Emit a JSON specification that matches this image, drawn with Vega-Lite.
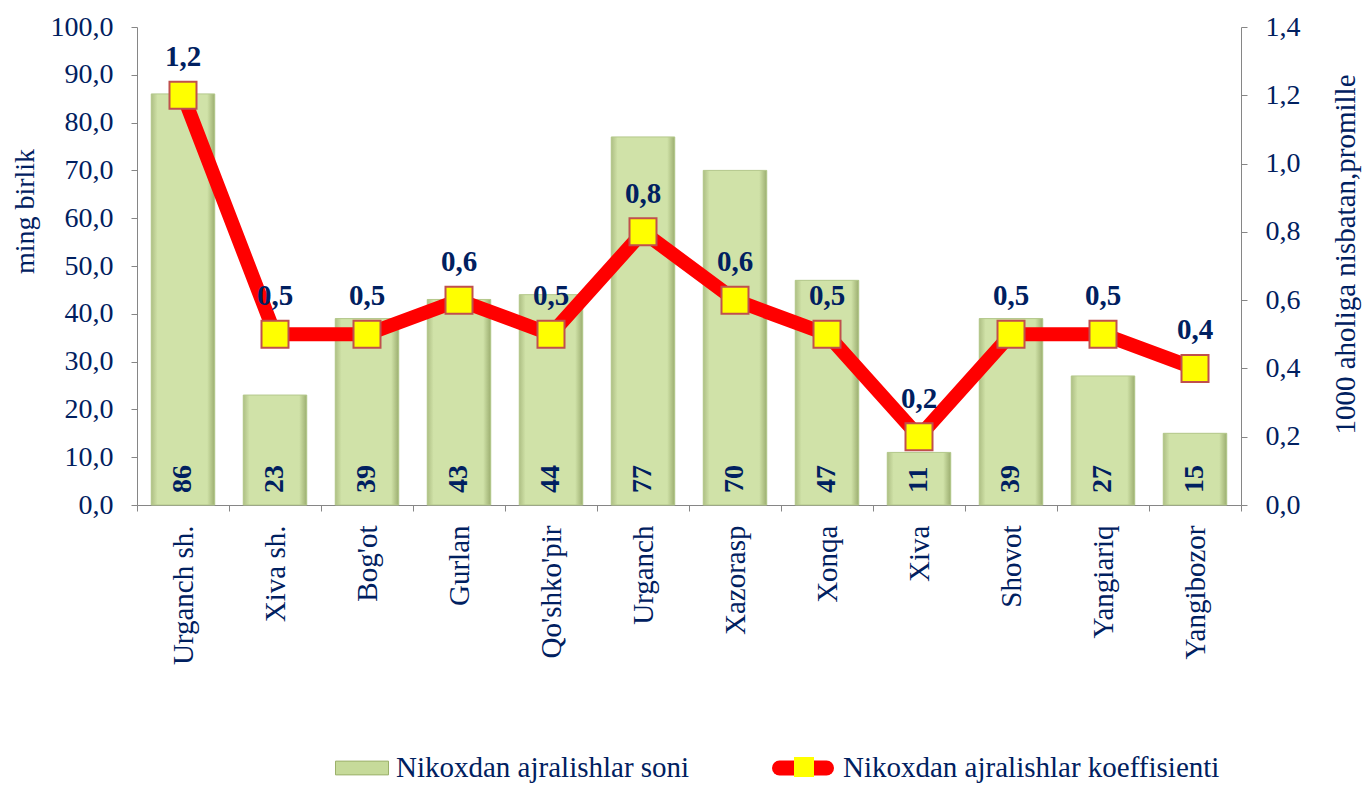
{
  "$schema": "https://vega.github.io/schema/vega-lite/v6.json",
  "width": 1104,
  "height": 478,
  "autosize": {"type": "none"},
  "padding": {"left": 137, "top": 27, "right": 121, "bottom": 282},
  "background": "white",
  "config": {
    "locale": {"number": {"decimal": ",", "thousands": " ", "grouping": [3], "currency": ["", ""]}},
    "view": {"stroke": null},
    "font": "Liberation Serif",
    "style": {
      "guide-label": {"font": "Liberation Serif"},
      "guide-title": {"font": "Liberation Serif"}
    },
    "axis": {
      "labelFont": "Liberation Serif",
      "titleFont": "Liberation Serif",
      "labelColor": "#002060",
      "titleColor": "#002060",
      "domainColor": "#868686",
      "tickColor": "#868686",
      "grid": false,
      "titleFontWeight": "normal"
    },
    "legend": {
      "labelFont": "Liberation Serif",
      "labelColor": "#002060",
      "labelFontSize": 29,
      "labelLimit": 800,
      "padding": 0,
      "title": null
    }
  },
  "data": {
    "values": [
      {"district": "Urganch sh.", "count": 86, "coef": 1.2},
      {"district": "Xiva sh.", "count": 23, "coef": 0.5},
      {"district": "Bog'ot", "count": 39, "coef": 0.5},
      {"district": "Gurlan", "count": 43, "coef": 0.6},
      {"district": "Qo'shko'pir", "count": 44, "coef": 0.5},
      {"district": "Urganch", "count": 77, "coef": 0.8},
      {"district": "Xazorasp", "count": 70, "coef": 0.6},
      {"district": "Xonqa", "count": 47, "coef": 0.5},
      {"district": "Xiva", "count": 11, "coef": 0.2},
      {"district": "Shovot", "count": 39, "coef": 0.5},
      {"district": "Yangiariq", "count": 27, "coef": 0.5},
      {"district": "Yangibozor", "count": 15, "coef": 0.4}
    ]
  },
  "encoding": {
    "x": {
      "field": "district",
      "type": "nominal",
      "sort": null,
      "scale": {"paddingInner": 0, "paddingOuter": 0},
      "axis": {
        "title": null,
        "labelAngle": 270,
        "labelAlign": "right",
        "labelBaseline": "middle",
        "labelFontSize": 29,
        "labelPadding": 14,
        "tickSize": 6,
        "tickBand": "extent"
      }
    }
  },
  "layer": [
    {
      "layer": [
        {
          "mark": {"type": "bar", "width": {"band": 0.69}},
          "encoding": {
            "y": {
              "field": "count",
              "type": "quantitative",
              "scale": {"domain": [0, 100]},
              "axis": {
                "orient": "left",
                "title": "ming  birlik",
                "titleFontSize": 28,
                "titleAngle": 270,
                "titleX": -112,
                "titleY": 184,
                "titleAlign": "center",
                "titleBaseline": "middle",
                "values": [0, 10, 20, 30, 40, 50, 60, 70, 80, 90, 100],
                "format": ".1f",
                "labelFontSize": 28,
                "labelPadding": 18,
                "tickSize": 6
              }
            },
            "fill": {
              "datum": "Nikoxdan ajralishlar soni",
              "scale": {"range": ["#c6da9a"]},
              "legend": {
                "orient": "none",
                "legendX": 198,
                "legendY": 714,
                "symbolType": "M-1,-0.26H1V0.26H-1Z",
                "symbolSize": 2809,
                "symbolStrokeColor": "#9bb06a",
                "symbolStrokeWidth": 1,
                "labelFont": "Liberation Serif",
                "labelFontSize": 29,
                "labelColor": "#002060",
                "labelOffset": 7,
                "encode": {"labels": {"enter": {"font": {"value": "Liberation Serif"}}, "update": {"font": {"value": "Liberation Serif"}}}}
              }
            }
          }
        },
        {
          "mark": {
            "type": "bar",
            "width": {"band": 0.69},
            "stroke": "#b4c88c",
            "strokeWidth": 1,
            "color": {
              "gradient": "linear",
              "x1": 0, "y1": 0, "x2": 1, "y2": 0,
              "stops": [
                {"offset": 0, "color": "#aebf84"},
                {"offset": 0.1, "color": "#d0e2a8"},
                {"offset": 0.88, "color": "#d0e2a8"},
                {"offset": 1, "color": "#9cae70"}
              ]
            }
          },
          "encoding": {
            "y": {"field": "count", "type": "quantitative"}
          }
        },
        {
          "mark": {
            "type": "text",
            "angle": 270,
            "align": "left",
            "baseline": "middle",
            "dx": 12,
            "font": "Liberation Serif",
            "fontSize": 28,
            "fontWeight": "bold",
            "color": "#002060"
          },
          "encoding": {
            "y": {"datum": 0, "type": "quantitative"},
            "text": {"field": "count", "type": "quantitative", "format": "d"}
          }
        }
      ]
    },
    {
      "layer": [
        {
          "mark": {"type": "line", "strokeWidth": 14, "strokeJoin": "miter"},
          "encoding": {
            "y": {
              "field": "coef",
              "type": "quantitative",
              "scale": {"domain": [0, 1.4]},
              "axis": {
                "orient": "right",
                "title": "1000 aholiga nisbatan,promille",
                "titleFontSize": 29,
                "titleAngle": 270,
                "titleX": 104,
                "titleY": 227,
                "titleAlign": "center",
                "titleBaseline": "middle",
                "values": [0, 0.2, 0.4, 0.6, 0.8, 1.0, 1.2, 1.4],
                "format": ".1f",
                "labelFontSize": 28,
                "labelPadding": 18,
                "tickSize": 6
              }
            },
            "stroke": {
              "datum": "Nikoxdan ajralishlar koeffisienti",
              "scale": {"range": ["#ff0000"]},
              "legend": {
                "orient": "none",
                "legendX": 635,
                "legendY": 710,
                "symbolType": "stroke",
                "symbolSize": 2209,
                "symbolStrokeWidth": 15,
                "labelFont": "Liberation Serif",
                "labelFontSize": 29,
                "labelColor": "#002060",
                "labelOffset": 9,
                "zindex": 1,
                "encode": {
                  "symbols": {"update": {"strokeCap": {"value": "round"}}},
                  "labels": {"enter": {"font": {"value": "Liberation Serif"}}, "update": {"font": {"value": "Liberation Serif"}}}
                }
              }
            }
          }
        },
        {
          "mark": {
            "type": "point",
            "filled": true,
            "size": 729,
            "fill": "#ffff00",
            "stroke": "#c0504d",
            "strokeWidth": 2,
            "opacity": 1
          },
          "encoding": {
            "y": {"field": "coef", "type": "quantitative"},
            "shape": {
              "datum": "marker",
              "scale": {"range": ["square"]},
              "legend": {
                "orient": "none",
                "legendX": 656,
                "legendY": 729,
                "symbolSize": 400,
                "symbolFillColor": "#ffff00",
                "symbolStrokeColor": "#c0504d",
                "symbolStrokeWidth": 2,
                "labelFontSize": 1,
                "labelOffset": 0,
                "labelExpr": "''",
                "labelColor": "transparent",
                "zindex": 2
              }
            }
          }
        },
        {
          "mark": {
            "type": "text",
            "baseline": "middle",
            "align": "center",
            "dy": -38,
            "font": "Liberation Serif",
            "fontSize": 29,
            "fontWeight": "bold",
            "color": "#002060"
          },
          "encoding": {
            "y": {"field": "coef", "type": "quantitative"},
            "text": {"field": "coef", "type": "quantitative", "format": ".1f"}
          }
        }
      ]
    }
  ],
  "resolve": {"scale": {"y": "independent"}}
}
